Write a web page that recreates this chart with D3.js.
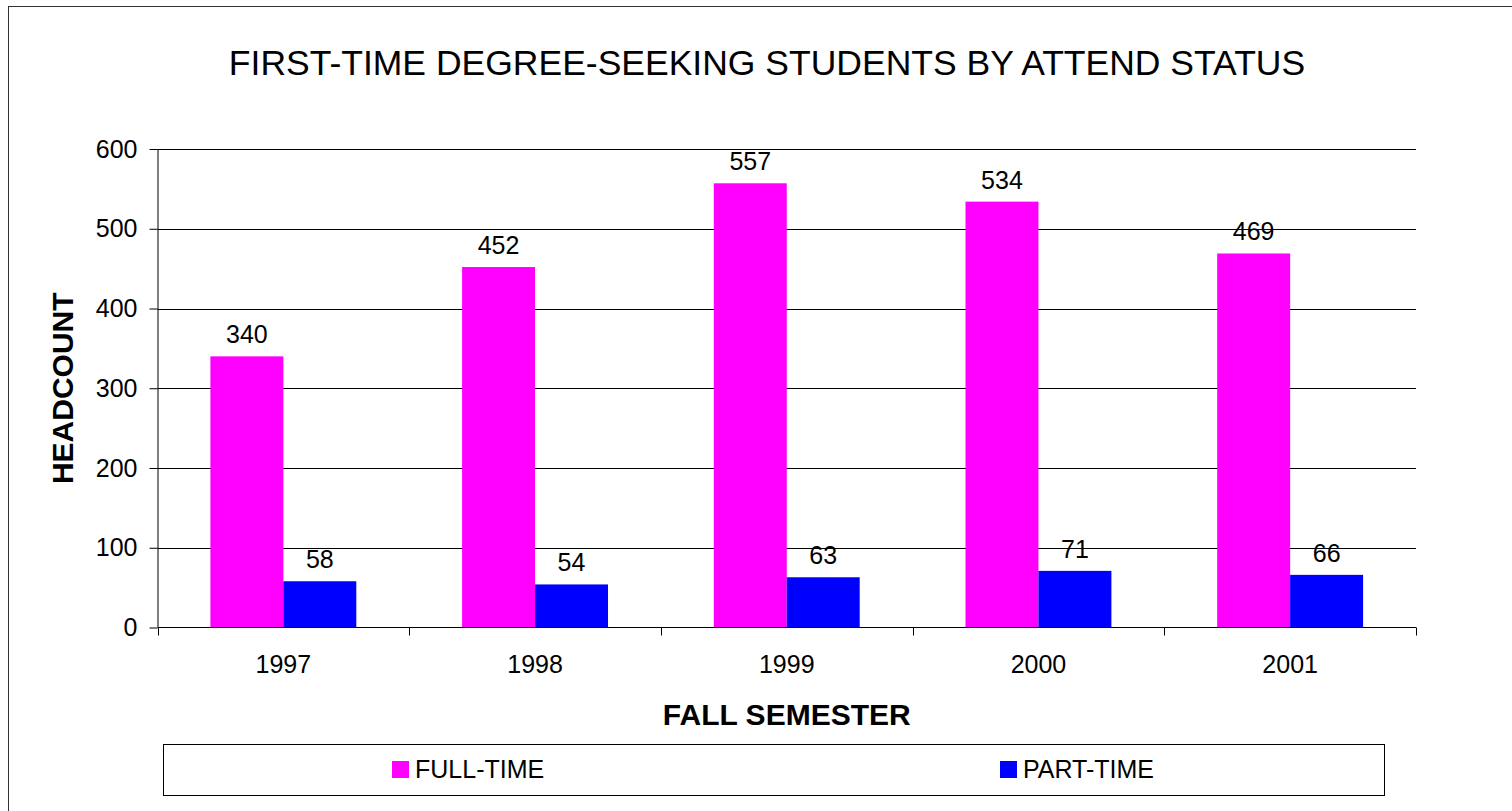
<!DOCTYPE html>
<html>
<head>
<meta charset="utf-8">
<script src="https://cdn.jsdelivr.net/npm/d3@7"></script>
<style>
  body { margin: 0; background: #fff; }
  svg { display: block; font-family: "Liberation Sans", Arial, sans-serif; }
</style>
</head>
<body>
<div id="chart"></div>
<script>
// chart data
var years = ["1997", "1998", "1999", "2000", "2001"];
var seriesNames = ["FULL-TIME", "PART-TIME"];
var fullTime = [340, 452, 557, 534, 469];
var partTime = [58, 54, 63, 71, 66];
var yTicks = [0, 100, 200, 300, 400, 500, 600];
var seriesColors = ["#FF00FF", "#0000FF"];

var W = 1512, H = 811;
var plot = {left: 157.5, right: 1416, top: 149, bottom: 627.5};

var svg = d3.select("#chart").append("svg")
    .attr("width", W).attr("height", H);

// outer chart border (runs off the right/bottom edge like the original)
svg.append("rect")
    .attr("x", 8.5).attr("y", 6.5)
    .attr("width", W + 20).attr("height", H + 20)
    .attr("fill", "none").attr("stroke", "#333").attr("stroke-width", 1);

svg.append("text")
    .attr("x", 767).attr("y", 75)
    .attr("text-anchor", "middle")
    .attr("font-size", 35.5)
    .attr("fill", "#000")
    .text("FIRST-TIME DEGREE-SEEKING STUDENTS BY ATTEND STATUS");

var x0 = d3.scaleBand().domain(years).range([plot.left, plot.right]).padding(0);
var x1 = d3.scaleBand().domain(seriesNames).range([0, x0.bandwidth()])
    .paddingInner(0).paddingOuter(0.725);
var y = d3.scaleLinear().domain([0, 600]).range([plot.bottom, plot.top]);
var color = d3.scaleOrdinal().domain(seriesNames).range(seriesColors);

var rows = years.map(function(yr, i) {
  return {year: yr, values: [
    {key: seriesNames[0], value: fullTime[i]},
    {key: seriesNames[1], value: partTime[i]}
  ]};
});

// gridlines
svg.append("g").selectAll("line")
    .data(yTicks.slice(1))
    .enter().append("line")
    .attr("x1", plot.left).attr("x2", plot.right)
    .attr("y1", function(d) { return Math.round(y(d)) + 0.5; })
    .attr("y2", function(d) { return Math.round(y(d)) + 0.5; })
    .attr("stroke", "#000").attr("stroke-width", 1);

// bars
var groups = svg.append("g").selectAll("g")
    .data(rows)
    .enter().append("g")
    .attr("transform", function(d) { return "translate(" + x0(d.year) + ",0)"; });

groups.selectAll("rect")
    .data(function(d) { return d.values; })
    .enter().append("rect")
    .attr("x", function(d) { return x1(d.key); })
    .attr("y", function(d) { return y(d.value); })
    .attr("width", x1.bandwidth())
    .attr("height", function(d) { return y(0) - y(d.value); })
    .attr("fill", function(d) { return color(d.key); });

groups.selectAll("text")
    .data(function(d) { return d.values; })
    .enter().append("text")
    .attr("x", function(d) { return x1(d.key) + x1.bandwidth() / 2; })
    .attr("y", function(d) { return y(d.value) - 13; })
    .attr("text-anchor", "middle")
    .attr("font-size", 25)
    .text(function(d) { return d.value; });

// y axis
var yAxis = svg.append("g")
    .attr("transform", "translate(" + plot.left + ",0)")
    .call(d3.axisLeft(y).tickValues(yTicks).tickSize(8).tickPadding(12));
yAxis.selectAll("text").attr("font-size", 25).attr("fill", "#000")
    .attr("font-family", "Liberation Sans, Arial, sans-serif");
yAxis.selectAll("line, path").attr("stroke", "#000");
yAxis.select(".domain").attr("d", "M0.5," + plot.top + "V" + plot.bottom);

// x axis with ticks at category boundaries
var xAxis = svg.append("g")
    .attr("transform", "translate(0," + (plot.bottom) + ")");
xAxis.append("line")
    .attr("x1", plot.left).attr("x2", plot.right)
    .attr("y1", 0).attr("y2", 0)
    .attr("stroke", "#000");
var bounds = years.map(function(d) { return x0(d); }).concat([plot.right]);
xAxis.selectAll("line.tick")
    .data(bounds)
    .enter().append("line")
    .attr("class", "tick")
    .attr("x1", function(d) { return Math.round(d) + 0.5; })
    .attr("x2", function(d) { return Math.round(d) + 0.5; })
    .attr("y1", 0).attr("y2", 8)
    .attr("stroke", "#000");
xAxis.selectAll("text")
    .data(years)
    .enter().append("text")
    .attr("x", function(d) { return x0(d) + x0.bandwidth() / 2; })
    .attr("y", 45)
    .attr("text-anchor", "middle")
    .attr("font-size", 25)
    .text(function(d) { return d; });

// axis titles
svg.append("text")
    .attr("x", (plot.left + plot.right) / 2).attr("y", 725)
    .attr("text-anchor", "middle")
    .attr("font-size", 30).attr("font-weight", "bold")
    .text("FALL SEMESTER");

svg.append("text")
    .attr("transform", "translate(73," + ((plot.top + plot.bottom) / 2) + ") rotate(-90)")
    .attr("text-anchor", "middle")
    .attr("font-size", 30).attr("font-weight", "bold")
    .text("HEADCOUNT");

// legend
var legend = svg.append("g");
legend.append("rect")
    .attr("x", 163.5).attr("y", 744.5)
    .attr("width", 1221).attr("height", 51)
    .attr("fill", "#fff").attr("stroke", "#000");

var legendX = d3.scalePoint().domain(seriesNames).range([392, 1000]);
var items = legend.selectAll("g.item")
    .data(seriesNames)
    .enter().append("g")
    .attr("class", "item")
    .attr("transform", function(d) { return "translate(" + legendX(d) + ",761)"; });
items.append("rect")
    .attr("width", 17).attr("height", 17)
    .attr("fill", function(d) { return color(d); });
items.append("text")
    .attr("x", 23).attr("y", 17)
    .attr("font-size", 25)
    .text(function(d) { return d; });
</script>
</body>
</html>
